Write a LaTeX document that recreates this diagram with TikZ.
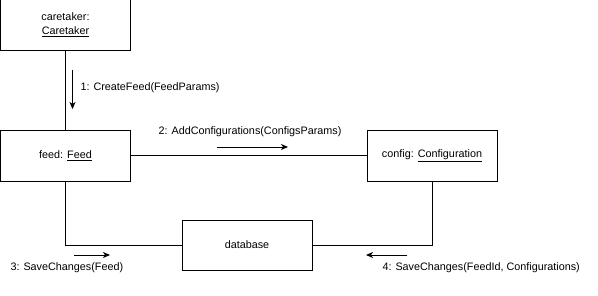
\documentclass[tikz,border=0pt]{standalone}
\usepackage{fontspec}
\setmainfont{Liberation Sans}
\usetikzlibrary{arrows.meta}

\begin{document}
\begin{tikzpicture}[x=1pt, y=-1pt, line width=1pt,
        object/.style={draw, minimum width=130pt, minimum height=51pt, align=center, font=\fontsize{10.8}{14}\selectfont},
        msg/.style={font=\fontsize{10.8}{13}\selectfont, inner sep=0pt},
        call/.style={-{Stealth[length=7pt, width=6pt, inset=2pt]}, line width=1pt}]
        \useasboundingbox (0, 0) rectangle (598, 295);

        \node[object] (caretaker) at (65.5, 25) {caretaker:\\\underline{Caretaker}};
        \node[object] (feed) at (65.5, 155.5) {feed: \underline{Feed}};
        \node[object] (config) at (432, 155.5) {config: \underline{Configuration}};
        \node[object, minimum height=50pt] (db) at (247, 245) {database};

        \draw (caretaker) -- (feed);
        \draw (feed) -- (config);
        \draw (feed.south) |- (db.west);
        \draw (config.south) |- (db.east);

        % message arrows
        \coordinate (m1a) at (72.5, 70);
        \coordinate (m1b) at (72.5, 109);
        \coordinate (m2a) at (217, 147);
        \coordinate (m2b) at (288, 147);
        \coordinate (m3a) at (74, 255);
        \coordinate (m3b) at (110, 255);
        \coordinate (m4a) at (407, 255);
        \coordinate (m4b) at (366, 255);

        \draw[call] (m1a) -- (m1b);
        \draw[call] (m2a) -- (m2b);
        \draw[call] (m3a) -- (m3b);
        \draw[call] (m4a) -- (m4b);

        \node[msg, anchor=west] (l1) at (80, 88) {1: CreateFeed(FeedParams)};
        \node[msg] (l2) at (250, 132) {2: AddConfigurations(ConfigsParams)};
        \node[msg, anchor=west] (l3) at (10, 268) {3: SaveChanges(Feed)};
        \node[msg, anchor=west] (l4) at (382, 268) {4: SaveChanges(FeedId, Configurations)};
    \end{tikzpicture}
\end{document}
